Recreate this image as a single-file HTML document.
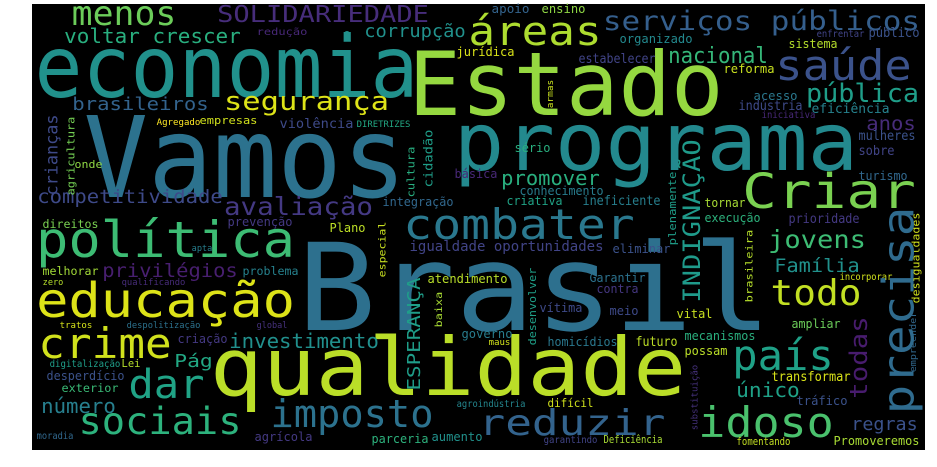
<!DOCTYPE html>
<html><head><meta charset="utf-8"><style>
html,body{margin:0;padding:0;background:#fff;width:937px;height:467px;overflow:hidden}
svg{display:block}
text{font-family:"DejaVu Sans Mono","Liberation Mono",monospace}
</style></head><body>
<svg id="cloud" width="937" height="467" xmlns="http://www.w3.org/2000/svg">
<rect x="32" y="4" width="893" height="446" fill="#000"/>
<circle cx="347" cy="34" r="3" fill="#21918c"/>
</svg>
<script>
const hWords = [
["Vamos",88,402,197,112,"#2c728e"],
["Brasil",302,767,330,121,"#2d708e"],
["economia",38,415,97,86,"#21918c"],
["Estado",412,720,115,88,"#95d840"],
["programa",457,855,170,80,"#23898e"],
["qualidade",213,683,395,80,"#bade28"],
["política",38,293,257,50,"#3dbc74"],
["educação",38,293,317,48,"#dde318"],
["crime",40,170,358,42,"#d0e11c"],
["dar",130,203,398,40,"#20a386"],
["sociais",80,240,434,37,"#2db27d"],
["imposto",272,432,427,38,"#2c728e"],
["número",42,115,413,20,"#277f8e"],
["reduzir",480,664,435,36,"#33638d"],
["idoso",700,832,437,42,"#4ac16d"],
["país",734,832,370,42,"#1fa187"],
["todo",772,860,305,36,"#c2df23"],
["Criar",744,914,208,48,"#7ad151"],
["combater",405,633,239,42,"#2a788e"],
["saúde",777,910,80,42,"#3b528b"],
["serviços públicos",604,919,30,27,"#355f8d"],
["áreas",470,600,45,40,"#addc30"],
["pública",807,918,102,26,"#1f9e89"],
["nacional",669,767,63,22,"#35b779"],
["menos",73,175,25,34,"#6ccd5a"],
["SOLIDARIEDADE",218,428,22,23,"#472d7b"],
["voltar crescer",65,240,43,20,"#29af7f"],
["corrupção",365,465,37,18,"#21918c"],
["redução",257,307,35,10,"#482878"],
["segurança",225,388,110,26,"#dde318"],
["brasileiros",73,208,110,18,"#33638d"],
["Agregado",157,200,125,9,"#fde725"],
["empresas",200,257,124,11,"#d0e11c"],
["violência",280,353,128,13,"#3e4a89"],
["DIRETRIZES",357,410,127,9,"#22a884"],
["onde",75,102,168,11,"#8fd744"],
["competitividade",38,222,203,19,"#3e4a89"],
["avaliação",225,372,215,25,"#443983"],
["integração",383,453,206,12,"#31688e"],
["direitos",43,98,228,11.5,"#7ad151"],
["prevenção",228,292,226,12,"#443983"],
["Plano",330,365,232,12,"#bddf26"],
["privilégios",103,237,277,19,"#481f70"],
["melhorar",43,98,275,11.5,"#a2da37"],
["problema",243,298,275,11.5,"#26828e"],
["apta",192,212,251,8.5,"#277f8e"],
["zero",43,63,285,8.5,"#b5de2b"],
["qualificando",122,185,285,9,"#472c7a"],
["tratos",60,92,328,9,"#d5e21a"],
["despolitização",127,200,328,9,"#2c728e"],
["global",257,287,328,9,"#46327e"],
["criação",178,227,343,12,"#443983"],
["investimento",230,378,348,20,"#21908d"],
["Pág",175,212,367,18,"#22a884"],
["digitalização",50,120,367,9.5,"#1f9e89"],
["Lei",122,140,367,11,"#b5de2b"],
["desperdício",47,124,380,12,"#3b528b"],
["exterior",62,118,392,11.5,"#3aba76"],
["moradia",37,73,439,9.5,"#31688e"],
["agrícola",255,312,441,12,"#443983"],
["parceria",372,428,443,12,"#2db27d"],
["aumento",432,482,441,12,"#21918c"],
["atendimento",428,507,283,12,"#b8de29"],
["igualdade oportunidades",410,603,251,14,"#414487"],
["governo",462,512,338,12,"#287d8e"],
["agroindústria",457,525,407,9.5,"#24868e"],
["maus",489,510,345,8.5,"#d0e11c"],
["homicídios",548,617,346,12,"#2a788e"],
["vítima",540,582,312,12,"#3e4a89"],
["Garantir",590,645,282,12,"#2c728e"],
["contra",597,638,293,12,"#453781"],
["meio",610,638,315,12,"#3e4a89"],
["eliminar",613,670,253,12,"#3b528b"],
["vital",677,712,318,12,"#c8e020"],
["futuro",636,677,346,13,"#bddf26"],
["mecanismos",685,755,340,12,"#2ab07f"],
["possam",685,727,355,12,"#bade28"],
["transformar",772,850,381,13,"#d8e219"],
["único",737,799,397,20,"#1fa187"],
["tráfico",797,847,405,12.5,"#3b528b"],
["fomentando",737,790,445,11,"#c2df23"],
["difícil",548,593,407,11.5,"#d0e11c"],
["garantindo",544,597,443,10,"#414487"],
["Deficiência",604,662,443,11,"#a8db34"],
["regras",852,917,430,18,"#3b528b"],
["Promoveremos",834,919,445,12,"#a8db34"],
["ampliar",792,840,328,12.5,"#6ccd5a"],
["incorporar",840,892,280,9.5,"#d0e11c"],
["jovens",769,865,248,25,"#3dbc74"],
["Família",775,859,272,19,"#21918c"],
["anos",867,915,130,19,"#472c7a"],
["mulheres",859,915,140,13,"#3b528b"],
["sobre",859,894,155,13,"#414487"],
["turismo",859,907,180,12,"#31688e"],
["prioridade",789,859,223,13,"#443983"],
["execução",705,760,222,12,"#2db27d"],
["tornar",705,745,207,12,"#a8db34"],
["ineficiente",583,660,205,13,"#277f8e"],
["criativa",507,562,205,12,"#20a386"],
["conhecimento",520,603,195,12,"#287d8e"],
["promover",502,599,185,20,"#29af7f"],
["básica",455,497,178,12,"#482878"],
["sério",515,550,152,12,"#29af7f"],
["jurídica",457,514,56,12,"#d8e219"],
["apoio",492,529,13,12,"#33638d"],
["ensino",542,585,13,12,"#8fd744"],
["organizado",620,692,43,12.5,"#23898e"],
["estabelecer",579,655,63,13,"#414487"],
["reforma",724,774,73,12.5,"#c8e020"],
["sistema",789,837,48,12.5,"#b5de2b"],
["enfrentar",817,864,37,10,"#414487"],
["público",869,919,37,13,"#3b528b"],
["acesso",754,797,100,12.5,"#2a788e"],
["indústria",739,802,110,13,"#3e4a89"],
["eficiência",812,889,113,13,"#26828e"],
["iniciativa",762,815,118,9.5,"#482878"]
];
const vWords = [
["crianças",45,60,115,195,17,"#3e4a89"],
["agricultura",67,75,117,195,11,"#75d054"],
["cultura",406,416,147,197,11,"#28ae80"],
["cidadão",423,434,130,187,12,"#1f9e89"],
["especial",378,388,222,277,10,"#c8e020"],
["ESPERANÇA",406,423,278,390,18,"#1f9e89"],
["baixa",435,444,292,327,10,"#a8db34"],
["desenvolver",527,538,268,345,11,"#1fa088"],
["plenamente",667,678,172,245,11,"#1f9e89"],
["INDIGNAÇÃO",682,702,140,302,24,"#1f9a8a"],
["substituição",692,699,365,430,9,"#46327e"],
["todas",849,869,317,398,24,"#481c6e"],
["brasileira",745,755,230,302,10,"#b5de2b"],
["desigualdades",910,922,213,303,11,"#d0e11c"],
["empreender",910,918,312,372,9,"#31688e"],
["precisa",877,921,208,413,44,"#2f6b8e"],
["armas",547,555,80,108,9,"#c8e020"]
];
const NS="http://www.w3.org/2000/svg";
const svg=document.getElementById('cloud');
function slug(s){return s.normalize('NFD').replace(/[\u0300-\u036f]/g,'').toLowerCase().replace(/[^a-z0-9]+/g,'-');}
hWords.forEach(w=>{
  const [t,x0,x1,b,fs,c]=w;
  const el=document.createElementNS(NS,'text');
  
  
  el.setAttribute('x',x0-0.04*fs);
  el.setAttribute('y',b);
  el.setAttribute('font-size',fs);
  el.setAttribute('fill',c);
  el.setAttribute('textLength',(x1-x0)+0.08*fs);
  el.setAttribute('lengthAdjust','spacingAndGlyphs');
  el.textContent=t;
  svg.appendChild(el);
});
vWords.forEach(w=>{
  const [t,x0,x1,y0,y1,fs,c]=w;
  const cx=(x0+x1)/2, cy=(y0+y1)/2;
  const el=document.createElementNS(NS,'text');
  
  
  el.setAttribute('x',cx);
  el.setAttribute('y',cy);
  el.setAttribute('font-size',fs);
  el.setAttribute('fill',c);
  el.setAttribute('text-anchor','middle');
  el.setAttribute('dominant-baseline','central');
  el.setAttribute('transform','rotate(-90 '+cx+' '+cy+')');
  el.setAttribute('textLength',(y1-y0)+0.06*fs);
  el.setAttribute('lengthAdjust','spacingAndGlyphs');
  el.textContent=t;
  svg.appendChild(el);
});
</script>
</body></html>
